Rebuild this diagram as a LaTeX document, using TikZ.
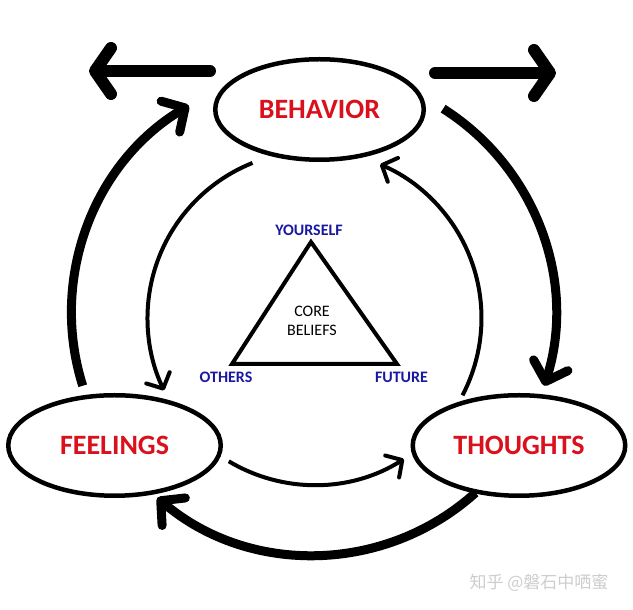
\documentclass[tikz,border=0pt]{standalone}
\usepackage{fontspec}
\setmainfont{Carlito}
\newfontfamily\cjkfont{Noto Sans CJK SC}
\usetikzlibrary{arrows.meta,calc,shapes.geometric}
\definecolor{lblred}{RGB}{218,16,28}
\definecolor{lblblue}{RGB}{25,25,160}
\definecolor{wmgray}{RGB}{205,205,205}
\begin{document}
\begin{tikzpicture}[x=1pt,y=1pt,
  stage/.style={ellipse, draw, line width=4.5pt, inner sep=0pt, minimum width=212.5pt, minimum height=100.5pt, text=lblred, font=\fontsize{28}{30}\selectfont\bfseries},
  outerarc/.style={line width=9pt, -{Straight Barb[length=17pt,width=36pt,round]}},
  innerarc/.style={line width=4pt, -{Straight Barb[length=12pt,width=26pt,round]}},
  bigarrow/.style={line width=12pt, line cap=round, -{Straight Barb[length=16pt,width=46pt,round]}},
  vertex/.style={text=lblblue, font=\fontsize{16}{18}\selectfont\bfseries},
  core/.style={align=center, font=\fontsize{16}{19}\selectfont},
  tri/.style={line width=4pt}
]
\useasboundingbox (0,0) rectangle (633,610);
\node[stage, minimum width=208.5pt] (beh) at (319.5,500.5) {BEHAVIOR};
\node[stage] (feel) at (114.5,164.5) {FEELINGS};
\node[stage] (tho) at (519,164.5) {THOUGHTS};
\coordinate (oc) at (313.5,297);
\coordinate (ic) at (314.5,292);
% outer cycle
\coordinate (o1) at ($(oc)+(197.5:242)$);
\draw[outerarc] (o1) arc[start angle=197.5, end angle=121, radius=242];
\coordinate (o2) at ($(oc)+(57.6:242)$);
\draw[outerarc] (o2) arc[start angle=57.6, end angle=-17.5, radius=242];
\coordinate (o3) at ($(oc)+(-48:242)$);
\draw[outerarc] (o3) arc[start angle=-48, end angle=-130.2, radius=242];
% inner cycle
\coordinate (i1) at ($(ic)+(111.8:167)$);
\draw[innerarc] (i1) arc[start angle=111.8, end angle=205.7, radius=167];
\coordinate (i2) at ($(ic)+(239.1:167)$);
\draw[innerarc] (i2) arc[start angle=239.1, end angle=302.4, radius=167];
\coordinate (i3) at ($(ic)+(-27.6:167)$);
\draw[innerarc] (i3) arc[start angle=-27.6, end angle=66.9, radius=167];
% top arrows
\coordinate (la1) at (210,539); \coordinate (la2) at (89,539);
\draw[bigarrow] (la1) -- (la2);
\coordinate (ra1) at (435,537); \coordinate (ra2) at (556,537);
\draw[bigarrow] (ra1) -- (ra2);
% triangle
\coordinate (ty) at (311,368); \coordinate (to) at (232,246); \coordinate (tf) at (397,246);
\draw[tri] (ty) -- (to) -- (tf) -- cycle;
\node[vertex] (lyou) at (309,379.5) {YOURSELF};
\node[vertex] (loth) at (226,233) {OTHERS};
\node[vertex] (lfut) at (401.5,233) {FUTURE};
\node[core] (lcore) at (312,289) {CORE\\BELIEFS};
\node[text=wmgray, font=\cjkfont\fontsize{17}{19}\selectfont] (wm) at (539,27) {知乎 @磐石中哂蜜};
\end{tikzpicture}
\end{document}
